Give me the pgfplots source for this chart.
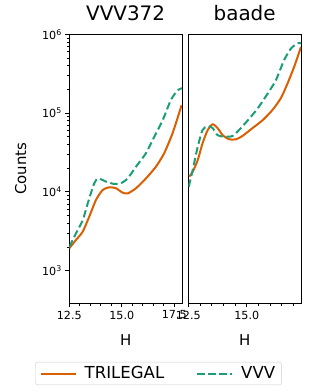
\documentclass[border=0pt]{standalone}
\usepackage{fontspec}
\setmainfont{DejaVu Sans}
\usepackage{pgfplots}
\pgfplotsset{compat=1.18}
\definecolor{trl}{HTML}{D95F02}
\definecolor{vvv}{HTML}{1B9E77}
\begin{document}
\begin{tikzpicture}
\path[use as bounding box] (-69.3bp,-88.7bp) rectangle (246.7bp,303.3bp);
\begin{axis}[at={(0,0)}, anchor=south west,
  scale only axis, width=112.7bp, height=269bp,
  ymode=log, ymin=385, ymax=1000000,
  axis line style={line width=0.8bp},
  tick style={black, line width=0.8bp},
  major tick length=4bp, minor tick length=2.3bp,
  tick align=outside, xtick pos=lower, ytick pos=left,
  tick label style={font=\fontsize{11.2}{13}\selectfont},
  title style={font=\fontsize{20}{24}\selectfont, at={(axis description cs:0.5,1)}, anchor=base, yshift=8.3bp},
  xlabel style={font=\fontsize{15}{18}\selectfont, at={(axis description cs:0.5,0)}, anchor=base, yshift=-42.7bp},
  ylabel style={font=\fontsize{15}{18}\selectfont, at={(axis description cs:0,0.5)}, anchor=base, yshift=43.3bp},
  xmin=12.5, xmax=17.87,
  xtick={12.5,15,17.5}, xticklabels={12.5,15.0,17.5},
  minor xtick={13,13.5,14,14.5,15.5,16,16.5,17},
  ytick={1000,10000,100000,1000000},
  yticklabels={10\textsuperscript{3},10\textsuperscript{4},10\textsuperscript{5},10\textsuperscript{6}},
  title={VVV372}, xlabel={H}, ylabel={Counts},
  legend style={at={(0.791,-0.261)}, anchor=center, draw=black!20, rounded corners=2.5bp,
    font=\fontsize{16.6}{19}\selectfont, inner xsep=4.5bp, inner ysep=2.5bp},
  legend columns=2,
  legend image code/.code={\draw[#1] (0bp,0bp) -- (35bp,0bp);},
  /tikz/every even column/.append style={column sep=30bp},
  /tikz/every odd column/.append style={column sep=6bp},
]
\addplot[color=trl, line width=2bp, smooth, tension=0.4] coordinates {
(12.50,1923) (12.82,2455) (13.14,3126) (13.45,4842) (13.77,7889) (14.09,10568)
(14.40,11429) (14.72,11117) (15.04,9772) (15.28,9550) (15.68,11117) (16.15,14791)
(16.63,20893) (17.02,30903) (17.42,55463) (17.85,125893)};
\addlegendentry{TRILEGAL}
\addplot[color=vvv, line width=2bp, smooth, tension=0.4, dash pattern=on 7.4bp off 3.6bp] coordinates {
(12.50,1995) (12.82,2985) (13.14,4365) (13.38,7161) (13.69,12882) (13.88,14791)
(14.25,13490) (14.64,12589) (14.96,12882) (15.28,14791) (15.68,20893) (16.15,30903)
(16.55,50119) (16.95,81283) (17.34,146555) (17.66,194984) (17.87,206538)};
\addlegendentry{VVV}
\end{axis}
\begin{axis}[at={(119bp,0)}, anchor=south west,
  scale only axis, width=112.7bp, height=269bp,
  ymode=log, ymin=385, ymax=1000000,
  axis line style={line width=0.8bp},
  tick style={black, line width=0.8bp},
  major tick length=4bp, minor tick length=2.3bp,
  tick align=outside, xtick pos=lower, ytick pos=left,
  tick label style={font=\fontsize{11.2}{13}\selectfont},
  title style={font=\fontsize{20}{24}\selectfont, at={(axis description cs:0.5,1)}, anchor=base, yshift=8.3bp},
  xlabel style={font=\fontsize{15}{18}\selectfont, at={(axis description cs:0.5,0)}, anchor=base, yshift=-42.7bp},
  xmin=12.5, xmax=17.32,
  xtick={12.5,15}, xticklabels={12.5,15.0},
  minor xtick={13,13.5,14,14.5,15.5,16,16.5,17},
  ytick=\empty, yminorticks=false,
  title={baade}, xlabel={H},
]
\addplot[color=trl, line width=2bp, smooth, tension=0.4] coordinates {
(12.54,15596) (12.69,18030) (12.90,25119) (13.11,41400) (13.33,60954) (13.54,72111)
(13.75,64565) (13.97,52481) (14.25,46452) (14.54,46452) (14.82,51286) (15.25,64565)
(15.68,81283) (16.10,109648) (16.46,154882) (16.75,239883) (17.03,389045) (17.32,691831)};
\addplot[color=vvv, line width=2bp, smooth, tension=0.4, dash pattern=on 7.4bp off 3.6bp] coordinates {
(12.52,11641) (12.69,19055) (12.90,37154) (13.11,60954) (13.33,68549) (13.54,64565)
(13.75,52481) (14.04,50119) (14.40,51286) (14.75,64565) (15.11,85114) (15.47,114815)
(15.90,177828) (16.25,263027) (16.60,472063) (16.89,660693) (17.18,769130) (17.32,769130)};
\end{axis}
\end{tikzpicture}
\end{document}
